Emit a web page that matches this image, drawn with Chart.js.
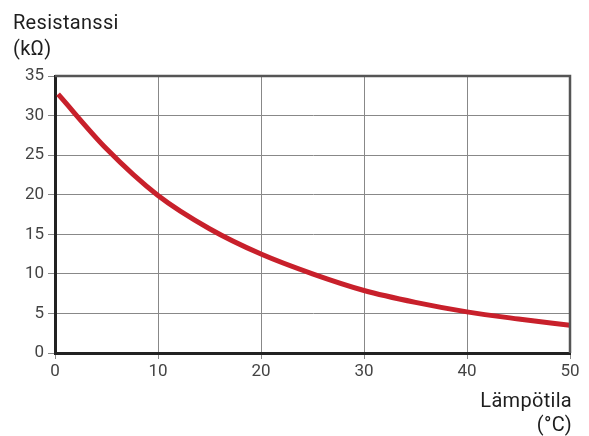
<!DOCTYPE html>
<html>
<head>
<meta charset="utf-8">
<script src="https://cdn.jsdelivr.net/npm/chart.js@4.4.0/dist/chart.umd.min.js"></script>
<style>
  html, body { margin: 0; padding: 0; background: #fff; }
  #wrap { width: 589px; height: 436px; position: relative; }
</style>
</head>
<body>
<div id="wrap"><canvas id="chart" width="589" height="436"></canvas></div>
<script>
// lämpötila (°C) ja resistanssi (kΩ)
const temps = [0.3, 5, 10, 15, 20, 25, 30, 35, 40, 45, 50];
const resistance = [32.7, 25.8, 19.9, 15.7, 12.5, 10.0, 7.9, 6.4, 5.2, 4.3, 3.5];
const xTicks = [0, 10, 20, 30, 40, 50];
const yTicks = [0, 5, 10, 15, 20, 25, 30, 35];

const yTitle = ['Resistanssi', '(kΩ)'];
const xTitle = ['Lämpötila', '(°C)'];

/*------------------------------------------otsikot ja kehys----------------------------------------------*/
const labels = {
    id: 'labels',
    afterDraw(chart) {
        const c = chart.ctx;
        const a = chart.chartArea;
        c.save();
        // top + right frame
        c.strokeStyle = '#555';
        c.lineWidth = 2.5;
        c.beginPath();
        c.moveTo(a.left, a.top);
        c.lineTo(a.right, a.top);
        c.lineTo(a.right, a.bottom);
        c.stroke();

        c.fillStyle = '#1e1e1e';
        c.font = '20px Roboto';
        c.letterSpacing = '0.3px';
        c.textBaseline = 'alphabetic';
        c.textAlign = 'left';
        c.fillText(yTitle[0], 13, 29);
        c.fillText(yTitle[1], 13, 55);
        c.textAlign = 'right';
        c.fillText(xTitle[0], 572, 407);
        c.fillText(xTitle[1], 572, 431);
        c.restore();
    }
};

let ctx = document.getElementById('chart').getContext('2d');
let chart = new Chart(ctx, {
    type: 'line',
    data: {
        datasets: [{
            data: temps.map((t, i) => ({ x: t, y: resistance[i] })),
            borderColor: '#c8202b',
            borderWidth: 5,
            pointRadius: 0,
            cubicInterpolationMode: 'monotone',
            fill: false
        }]
    },
    options: {
        responsive: false,
        animation: false,
        layout: { padding: { top: 76, right: 19, left: 0, bottom: 0 } },
        plugins: { legend: { display: false }, tooltip: { enabled: false } },
        scales: {
            x: {
                type: 'linear',
                min: 0,
                max: 50,
                afterBuildTicks: s => { s.ticks = xTicks.map(v => ({ value: v })); },
                afterFit: s => { s.height = 83; },
                ticks: { color: '#444', font: { family: 'Roboto', size: 17 }, padding: 3 },
                grid: { color: '#888', lineWidth: 1, tickLength: 6, tickColor: '#888' },
                border: { color: '#222', width: 3 }
            },
            y: {
                type: 'linear',
                min: 0,
                max: 35,
                afterBuildTicks: s => { s.ticks = yTicks.map(v => ({ value: v })); },
                afterFit: s => { s.width = 55; },
                ticks: { color: '#444', font: { family: 'Roboto', size: 17 }, padding: 4 },
                grid: { color: '#888', lineWidth: 1, tickLength: 7, tickColor: '#888' },
                border: { color: '#222', width: 3 }
            }
        }
    },
    plugins: [labels]
});
</script>
</body>
</html>
